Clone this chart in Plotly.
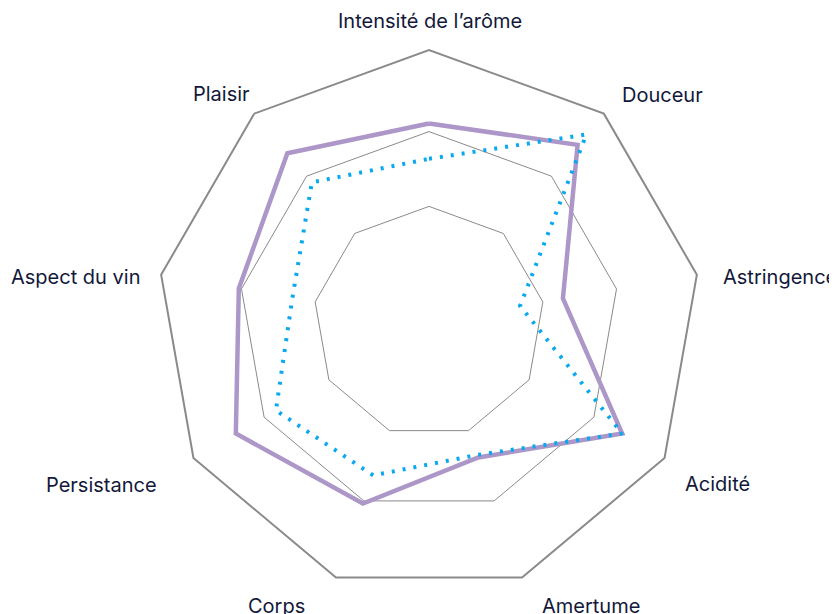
import plotly.graph_objects as go

categories = ["Intensité de l’arôme", "Douceur", "Astringence", "Acidité", "Amertume",
              "Corps", "Persistance", "Aspect du vin", "Plaisir"]
serie_a = [7.3, 8.5, 5.0, 8.2, 5.3, 7.1, 8.2, 7.1, 8.1]
serie_b = [6.0, 9.0, 3.4, 8.2, 5.2, 6.0, 6.5, 5.1, 6.7]
grid_ticks = [4.25, 7.0]

W, H = 837, 614
M = dict(l=13, r=8, t=42, b=28)
PAGE_OFFSET = 8  # default body margin of the page

# label placement (screen pixel anchor x, cap-centre y, horizontal anchor)
label_layout = [
    (429.5, 20.5, "center"),
    (621, 94.5, "left"),
    (722, 276.5, "left"),
    (684, 483.5, "left"),
    (541, 605.5, "left"),
    (306, 605.5, "right"),
    (158, 484.5, "right"),
    (141, 277, "right"),
    (251, 94, "right"),
]

def closed(v):
    return list(v) + [v[0]]

def to_paper(px, py):
    px -= PAGE_OFFSET
    py -= PAGE_OFFSET
    pw = W - M["l"] - M["r"]
    ph = H - M["t"] - M["b"]
    return (px - M["l"]) / pw, (H - M["b"] - py) / ph

fig = go.Figure()
fig.add_trace(go.Scatterpolar(
    r=closed(serie_a), theta=closed(categories), mode="lines",
    line=dict(color="#ad97c9", width=4.5), hoverinfo="skip", name="A"))
fig.add_trace(go.Scatterpolar(
    r=closed(serie_b), theta=closed(categories), mode="lines",
    line=dict(color="#0aa8ee", width=4, dash="3px,8px"), hoverinfo="skip", name="B"))

annotations = []
for name, (px, py, anchor) in zip(categories, label_layout):
    x, y = to_paper(px, py)
    annotations.append(dict(
        text=name, x=x, y=y, xref="paper", yref="paper",
        xanchor=anchor, yanchor="middle", showarrow=False, borderpad=0,
        font=dict(family="Inter", size=20, color="#13183a")))

fig.update_layout(
    width=W, height=H,
    margin=M,
    paper_bgcolor="white",
    showlegend=False,
    font=dict(family="Inter", size=20, color="#13183a"),
    annotations=annotations,
    polar=dict(
        bgcolor="white",
        gridshape="linear",
        radialaxis=dict(range=[0, 10], tickvals=grid_ticks, showticklabels=False,
                        showline=False, ticks="", gridcolor="#8a8a8a", gridwidth=1),
        angularaxis=dict(rotation=90, direction="clockwise", showgrid=False,
                         linecolor="#8a8a8a", linewidth=2, ticks="",
                         showticklabels=False),
    ),
)

fig.write_html("out.html")
